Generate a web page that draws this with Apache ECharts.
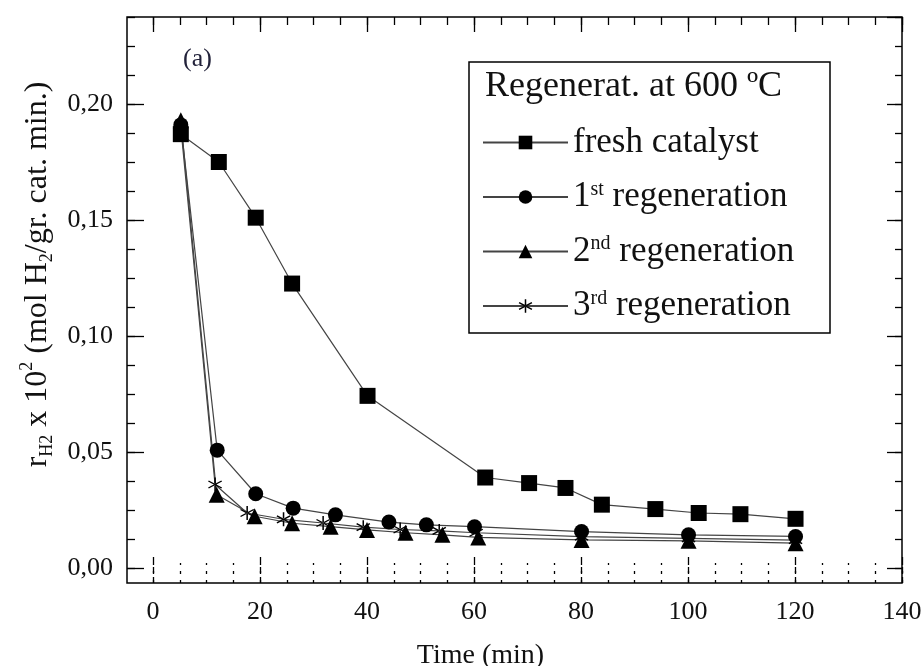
<!DOCTYPE html>
<html>
<head>
<meta charset="utf-8">
<script src="https://cdn.jsdelivr.net/npm/echarts@6/dist/echarts.min.js"></script>
<style>
  html, body { margin: 0; padding: 0; background: #fff; }
  #chart { width: 921px; height: 666px; }
</style>
</head>
<body>
<div id="chart"></div>
<script>
// values (time in min, rate r_H2 x 10^2)
var freshTime = [5.2, 12.3, 19.2, 26.0, 40.1, 62.1, 70.3, 77.1, 83.9, 93.9, 102.0, 109.8, 120.1];
var freshRate = [0.187, 0.175, 0.151, 0.1226, 0.0742, 0.039, 0.0366, 0.0345, 0.0273, 0.0254, 0.0237, 0.0232, 0.0212];

var regen1Time = [5.2, 12.0, 19.2, 26.2, 34.1, 44.1, 51.1, 60.1, 80.1, 100.1, 120.1];
var regen1Rate = [0.191, 0.0508, 0.032, 0.0258, 0.0229, 0.0198, 0.0186, 0.0178, 0.0157, 0.0143, 0.0136];

var regen2Time = [5.2, 11.9, 19.0, 26.0, 33.2, 40.0, 47.2, 54.1, 60.8, 80.1, 100.1, 120.1];
var regen2Rate = [0.193, 0.0316, 0.0223, 0.0193, 0.0178, 0.0164, 0.0152, 0.0143, 0.0132, 0.0121, 0.0117, 0.0107];

var regen3Time = [5.2, 11.6, 17.6, 24.4, 31.8, 39.3, 46.2, 53.5, 60.4, 80.1, 100.1, 120.1];
var regen3Rate = [0.190, 0.036, 0.0237, 0.021, 0.0194, 0.0176, 0.0166, 0.016, 0.0152, 0.0135, 0.0128, 0.012];

var seriesNames = ['fresh catalyst', '1st regeneration', '2nd regeneration', '3rd regeneration'];
var legendLabels = ['{t|fresh catalyst}', '{t|1}{sup|st}{t| regeneration}', '{t|2}{sup|nd}{t| regeneration}', '{t|3}{sup|rd}{t| regeneration}'];

var xMin = 0, xMax = 140, xStep = 20, xMinorStep = 5;
var yMin = 0, yMax = 0.2375, yStep = 0.05, yMinorStep = 0.0125;

var serif = 'Liberation Serif';
var ink = '#111';
var starPath = 'path://M4.5,0L5.5,0L5.5,10L4.5,10Z M0.42,2.93L9.08,7.93L9.58,7.07L0.92,2.07Z M0.92,7.93L9.58,2.93L9.08,2.07L0.42,7.07Z';

function pairs(xs, ys) {
  return xs.map(function (x, i) { return [x, ys[i]]; });
}

function lineSeries(name, xs, ys, symbol, size) {
  return {
    name: name,
    type: 'line',
    data: pairs(xs, ys),
    symbol: symbol,
    symbolSize: size,
    clip: false,
    itemStyle: { color: '#000' },
    lineStyle: { color: '#444', width: 1.2 },
    emphasis: { disabled: true }
  };
}

function xAxisDef(pos, step, len, extra) {
  var a = {
    type: 'value', position: pos, min: xMin, max: xMax, interval: step,
    axisLine: { show: false, onZero: false },
    axisTick: { inside: true, length: len, lineStyle: { color: '#000', width: 1.3 } },
    axisLabel: { show: false },
    splitLine: { show: false }
  };
  return Object.assign(a, extra || {});
}

function yAxisDef(pos, step, len, extra) {
  var a = {
    type: 'value', position: pos, min: yMin, max: yMax, interval: step,
    axisLine: { show: false, onZero: false },
    axisTick: { inside: true, length: len, lineStyle: { color: '#000', width: 1.3 } },
    axisLabel: { show: false },
    splitLine: { show: false }
  };
  return Object.assign(a, extra || {});
}

var chart = echarts.init(document.getElementById('chart'));

var option = {
  animation: false,
  backgroundColor: '#fff',
  grid: { left: 153, right: 19, top: 17, bottom: 98, containLabel: false, outerBoundsMode: 'none' },
  title: [
    { text: '(a)', left: 183, top: 46, padding: 0,
      textStyle: { fontFamily: serif, fontSize: 26, fontWeight: 'normal', color: '#22223a' } },
    { text: 'Regenerat. at 600 ºC', left: 485, top: 69, padding: 0,
      textStyle: { fontFamily: serif, fontSize: 36, fontWeight: 'normal', color: ink } }
  ],
  legend: {
    orient: 'vertical', left: 482, top: 125, padding: 0,
    itemWidth: 85, itemHeight: 17, itemGap: 19.5,
    data: seriesNames,
    formatter: function (name) { return legendLabels[seriesNames.indexOf(name)]; },
    textStyle: {
      fontFamily: serif, fontSize: 35, color: ink,
      rich: {
        t: { fontFamily: serif, fontSize: 35, color: ink, lineHeight: 35 },
        sup: { fontFamily: serif, fontSize: 20, color: ink, lineHeight: 19, verticalAlign: 'top' }
      }
    }
  },
  xAxis: [
    xAxisDef('bottom', xStep, 28, {
      offset: 15,
      axisTick: { inside: true, length: 28, lineStyle: { color: '#000', width: 1.3, type: [6, 4] } },
      axisLabel: { show: true, margin: 16, fontFamily: serif, fontSize: 26, color: ink },
      name: 'Time (min)', nameLocation: 'middle', nameGap: 59,
      nameTextStyle: { fontFamily: serif, fontSize: 28, color: ink, padding: [0, 94, 0, 0] }
    }),
    xAxisDef('bottom', xMinorStep, 20, {
      offset: 15,
      axisTick: { inside: true, length: 20, lineStyle: { color: '#000', width: 1.3, type: [3, 6] } }
    }),
    xAxisDef('top', xStep, 15),
    xAxisDef('top', xMinorStep, 8)
  ],
  yAxis: [
    yAxisDef('left', yStep, 17, {
      offset: 26,
      axisLabel: {
        show: true, margin: 14, showMaxLabel: false, fontFamily: serif, fontSize: 26, color: ink,
        formatter: function (v) { return v.toFixed(2).replace('.', ','); }
      },
      name: '{t|r}{sub|H2}{t| x 10}{sup|2}{t| (mol H}{sub|2}{t|/gr. cat. min.)}',
      nameLocation: 'middle', nameRotate: 90, nameGap: 70,
      nameTextStyle: {
        fontFamily: serif, fontSize: 32, color: ink, padding: [0, 0, 0, 36],
        rich: {
          t: { fontFamily: serif, fontSize: 32, color: ink, lineHeight: 38 },
          sub: { fontFamily: serif, fontSize: 18, color: ink, lineHeight: 20, verticalAlign: 'bottom' },
          sup: { fontFamily: serif, fontSize: 18, color: ink, lineHeight: 24, verticalAlign: 'top' }
        }
      }
    }),
    yAxisDef('left', yMinorStep, 8, { offset: 26 }),
    yAxisDef('right', yStep, 15),
    yAxisDef('right', yMinorStep, 7)
  ],
  series: [
    lineSeries(seriesNames[0], freshTime, freshRate, 'rect', 16),
    lineSeries(seriesNames[1], regen1Time, regen1Rate, 'circle', 15),
    lineSeries(seriesNames[2], regen2Time, regen2Rate, 'triangle', 16),
    lineSeries(seriesNames[3], regen3Time, regen3Rate, starPath, 14)
  ],
  graphic: [
    { type: 'rect', silent: true, z: 100,
      shape: { x: 127, y: 17, width: 775, height: 566 },
      style: { fill: 'none', stroke: '#000', lineWidth: 1.5 } },
    { type: 'rect', silent: true, z: 100,
      shape: { x: 469, y: 62, width: 361, height: 271 },
      style: { fill: 'none', stroke: '#000', lineWidth: 1.5 } }
  ]
};

chart.setOption(option);
</script>
</body>
</html>
